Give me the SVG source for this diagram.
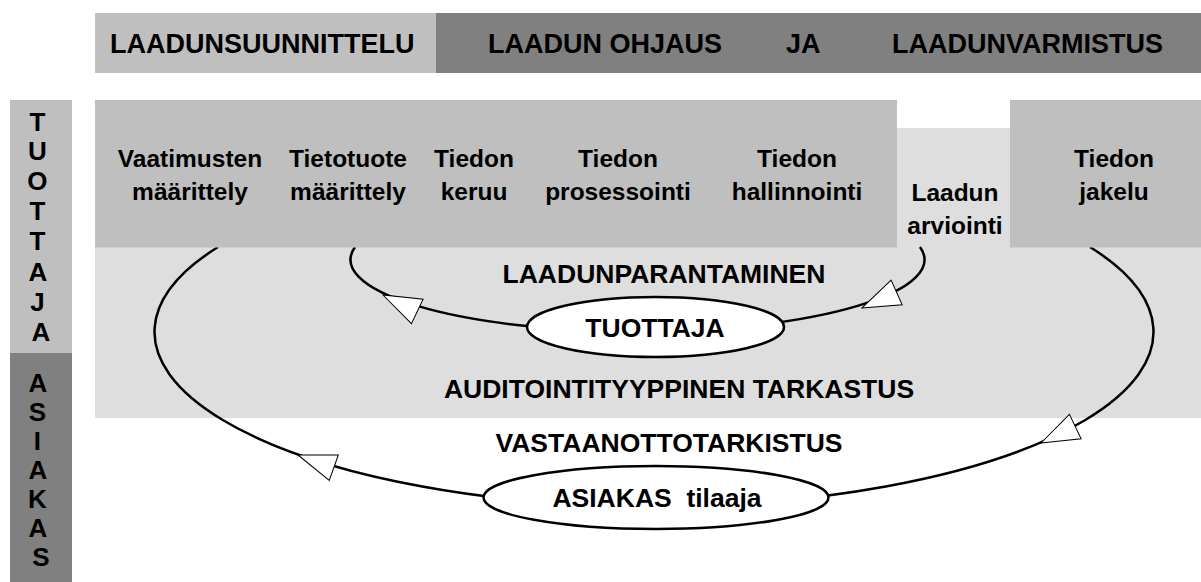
<svg xmlns="http://www.w3.org/2000/svg" width="1201" height="582" viewBox="0 0 1201 582">
  <style>
    text { font-family: "Liberation Sans", Arial, sans-serif; font-weight: bold; fill: #000; }
    .title { font-size: 27px; }
    .step { font-size: 24.5px; text-anchor: middle; }
    .label { font-size: 26.5px; text-anchor: middle; }
    .side { font-size: 26px; text-anchor: middle; }
    .light { fill: #bfbfbf; }
    .dark { fill: #808080; }
    .zone { fill: #dedede; }
    .loop { fill: none; stroke: #000; stroke-width: 2.5; }
    .role { fill: #fff; stroke: #000; stroke-width: 2.5; }
    .head { fill: #fff; stroke: #000; stroke-width: 1; stroke-linejoin: miter; }
  </style>
  <defs>
    <!-- open triangular arrowhead, tip at origin pointing along +x -->
    <path id="head" d="M0,0 L-38,-13.5 L-38,13.5 Z"/>
  </defs>

  <rect width="1201" height="582" fill="#fff"/>

  <!-- phase banner -->
  <g id="banner">
    <rect class="light" x="95" y="13" width="341" height="60"/>
    <rect class="dark" x="436" y="13" width="765" height="60"/>
    <text class="title" x="110" y="53">LAADUNSUUNNITTELU</text>
    <text class="title" x="488" y="53">LAADUN OHJAUS</text>
    <text class="title" x="786" y="53">JA</text>
    <text class="title" x="892" y="53">LAADUNVARMISTUS</text>
  </g>

  <!-- side bar: producer / customer -->
  <g id="side-producer">
    <rect class="light" x="10" y="100" width="62" height="253"/>
    <text class="side">
      <tspan x="41" y="130.5">T</tspan>
      <tspan x="41" y="160.4">U</tspan>
      <tspan x="41" y="190.3">O</tspan>
      <tspan x="41" y="220.2">T</tspan>
      <tspan x="41" y="250.1">T</tspan>
      <tspan x="41" y="280.5">A</tspan>
      <tspan x="41" y="310.5">J</tspan>
      <tspan x="41" y="340.5">A</tspan>
    </text>
  </g>
  <g id="side-customer">
    <rect class="dark" x="10" y="353" width="62" height="229"/>
    <text class="side">
      <tspan x="41" y="392">A</tspan>
      <tspan x="41" y="421">S</tspan>
      <tspan x="41" y="450">I</tspan>
      <tspan x="41" y="479">A</tspan>
      <tspan x="41" y="508">K</tspan>
      <tspan x="41" y="537">A</tspan>
      <tspan x="41" y="566">S</tspan>
    </text>
  </g>

  <!-- producer zone background -->
  <g id="producer-zone">
    <rect class="zone" x="95" y="128" width="1106" height="290"/>
  </g>

  <!-- feedback loops -->
  <g id="connectors">
    <path class="loop" d="M355,247 A287 72 0 1 0 920,247"/>
    <path class="loop" d="M218,247 A499.5 174.3 0 1 0 1090,247"/>
    <use href="#head" class="head" transform="translate(383,295) rotate(205.6)"/>
    <use href="#head" class="head" transform="translate(862,308) rotate(155.8)"/>
    <use href="#head" class="head" transform="translate(298,455) rotate(199.6)"/>
    <use href="#head" class="head" transform="translate(1041,443) rotate(154.4)"/>
  </g>

  <!-- process steps -->
  <g id="process">
    <rect class="light" x="95" y="100" width="802" height="147.5"/>
    <text class="step" x="190" y="167">Vaatimusten</text>
    <text class="step" x="190" y="200">määrittely</text>
    <text class="step" x="348" y="167">Tietotuote</text>
    <text class="step" x="348" y="200">määrittely</text>
    <text class="step" x="474" y="167">Tiedon</text>
    <text class="step" x="474" y="200">keruu</text>
    <text class="step" x="618" y="167">Tiedon</text>
    <text class="step" x="618" y="200">prosessointi</text>
    <text class="step" x="797" y="167">Tiedon</text>
    <text class="step" x="797" y="200">hallinnointi</text>
  </g>
  <g id="evaluation">
    <text class="step" x="955" y="201">Laadun</text>
    <text class="step" x="955" y="234">arviointi</text>
  </g>
  <g id="distribution">
    <rect class="light" x="1010" y="100" width="191" height="147.5"/>
    <text class="step" x="1114" y="167">Tiedon</text>
    <text class="step" x="1114" y="200">jakelu</text>
  </g>

  <!-- loop labels -->
  <g id="labels">
    <text class="label" x="664" y="283">LAADUNPARANTAMINEN</text>
    <text class="label" x="679" y="398">AUDITOINTITYYPPINEN TARKASTUS</text>
    <text class="label" x="669" y="452">VASTAANOTTOTARKISTUS</text>
  </g>

  <!-- roles -->
  <g id="producer">
    <ellipse class="role" cx="655.5" cy="327" rx="128.5" ry="30"/>
    <text class="label" x="655" y="337">TUOTTAJA</text>
  </g>
  <g id="customer">
    <ellipse class="role" cx="656" cy="497.5" rx="172.5" ry="31.5"/>
    <text class="label" x="657" y="507" style="white-space:pre">ASIAKAS  tilaaja</text>
  </g>
</svg>
